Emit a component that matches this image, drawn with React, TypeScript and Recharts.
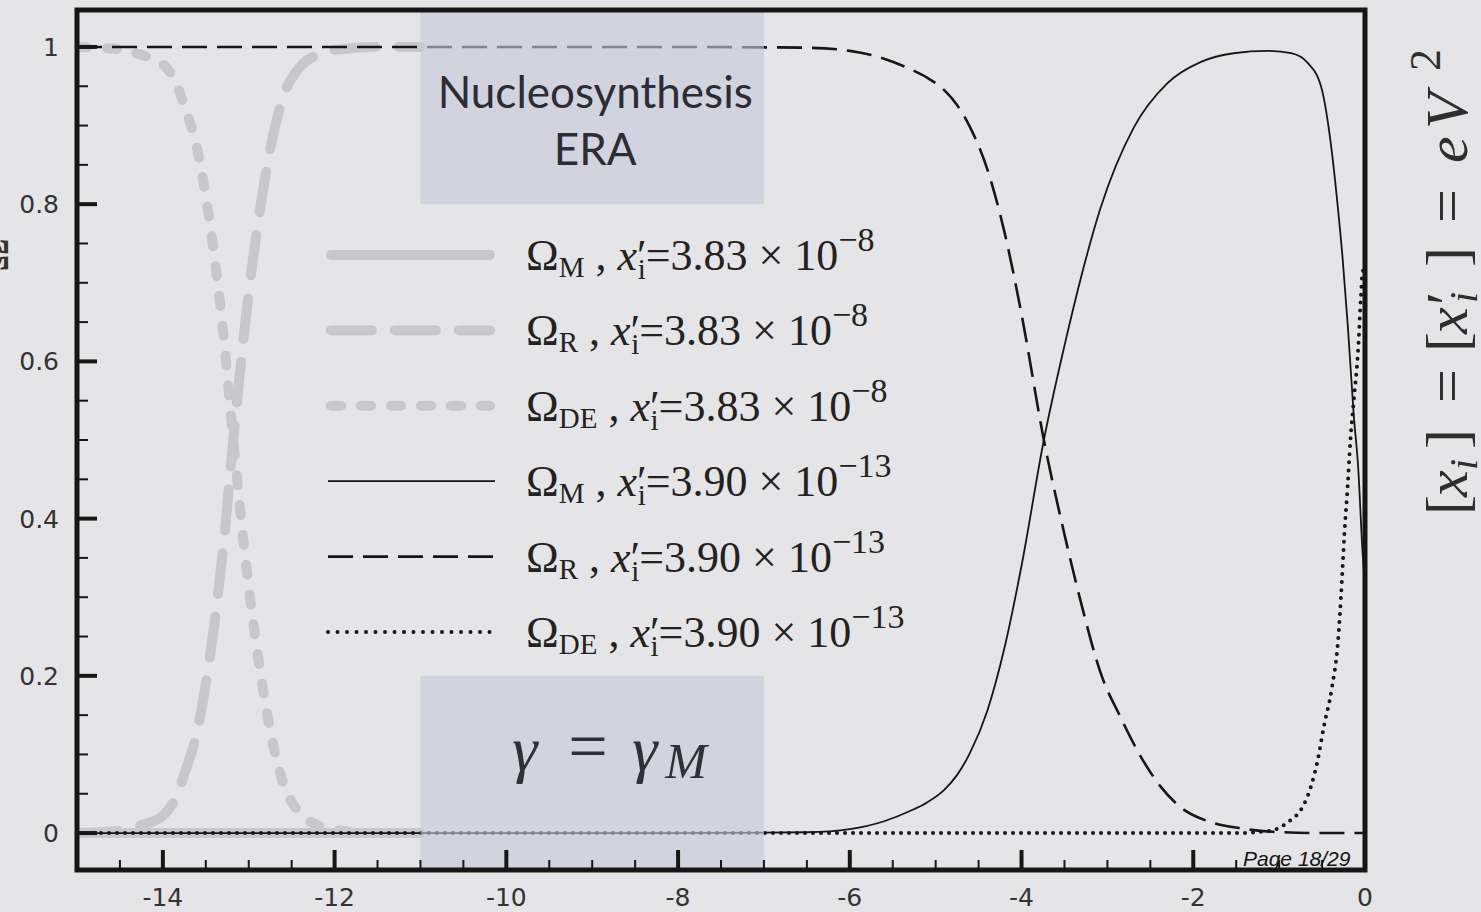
import { LineChart, Line, XAxis, YAxis, ReferenceArea, Legend } from "recharts";

// x is log10 of the scale factor, y is the density parameter
const xDomain = [-15, 0];
const yDomain = [-0.047, 1.047];

// x'_i = 3.83e-8 (grey, thick)
const earlyX = [-15, -14.75, -14.5, -14.25, -14, -13.85, -13.75, -13.6, -13.5, -13.42, -13.3, -13.18, -13.05, -12.95, -12.83, -12.72, -12.6, -12.4, -12.2, -12, -11.5, -11];
const earlyOmegaM = [0, 0, 0, 0, 0, 0, 0, 0, 0, 0, 0, 0, 0, 0, 0, 0, 0, 0, 0, 0, 0, 0];
const earlyOmegaR = [0, 0.001, 0.003, 0.01, 0.022, 0.045, 0.075, 0.13, 0.19, 0.25, 0.36, 0.5, 0.64, 0.73, 0.82, 0.886, 0.936, 0.975, 0.99, 0.996, 1, 1];
const earlyOmegaDE = [1, 0.999, 0.997, 0.99, 0.978, 0.955, 0.925, 0.87, 0.81, 0.75, 0.64, 0.5, 0.36, 0.27, 0.18, 0.114, 0.064, 0.025, 0.01, 0.004, 0, 0];

// x'_i = 3.90e-13 (black)
const lateRX = [-15, -8, -7, -6.5, -6, -5.6, -5.3, -5.1, -4.9, -4.75, -4.6, -4.4, -4.2, -4, -3.74, -3.5, -3.3, -3.08, -2.85, -2.61, -2.38, -2.15, -1.8, -1.45, -0.95, -0.5, 0];
const lateOmegaR = [1, 1, 0.9995, 0.999, 0.995, 0.985, 0.972, 0.961, 0.945, 0.926, 0.898, 0.845, 0.765, 0.66, 0.5, 0.38, 0.29, 0.204, 0.148, 0.097, 0.059, 0.033, 0.014, 0.006, 0.001, 0, 0];
const lateMX = [-15, -8, -7, -6.5, -6, -5.6, -5.3, -5.1, -4.9, -4.75, -4.6, -4.4, -4.2, -4, -3.74, -3.5, -3.3, -3.08, -2.69, -2.3, -1.91, -1.53, -1.13, -0.86, -0.67, -0.51, -0.39, -0.32, -0.26, -0.2, -0.13, -0.08, -0.03, 0];
const lateOmegaM = [0, 0, 0.0005, 0.001, 0.005, 0.015, 0.028, 0.039, 0.055, 0.074, 0.102, 0.155, 0.235, 0.34, 0.5, 0.62, 0.71, 0.795, 0.898, 0.954, 0.981, 0.992, 0.995, 0.992, 0.98, 0.949, 0.87, 0.8, 0.73, 0.645, 0.53, 0.466, 0.36, 0.31];
const lateDEX = [-15, -1.5, -1.1, -0.86, -0.75, -0.63, -0.55, -0.48, -0.39, -0.31, -0.28, -0.24, -0.2, -0.17, -0.13, -0.08, -0.05, -0.03, 0];
const lateOmegaDE = [0, 0, 0.003, 0.017, 0.029, 0.059, 0.093, 0.135, 0.182, 0.25, 0.3, 0.38, 0.445, 0.5, 0.551, 0.615, 0.678, 0.712, 0.72];

const xTicks = [-14.5, -14, -13.5, -13, -12.5, -12, -11.5, -11, -10.5, -10, -9.5, -9, -8.5, -8, -7.5, -7, -6.5, -6, -5.5, -5, -4.5, -4, -3.5, -3, -2.5, -2, -1.5, -1, -0.5, 0];
const xMajorTicks = [-14, -12, -10, -8, -6, -4, -2, 0];
const xTickLabels = ["-14", "-12", "-10", "-8", "-6", "-4", "-2", "0"];
const yTicks = [0, 0.05, 0.1, 0.15, 0.2, 0.25, 0.3, 0.35, 0.4, 0.45, 0.5, 0.55, 0.6, 0.65, 0.7, 0.75, 0.8, 0.85, 0.9, 0.95, 1];
const yMajorTicks = [0, 0.2, 0.4, 0.6, 0.8, 1];
const yTickLabels = ["0", "0.2", "0.4", "0.6", "0.8", "1"];

const legendSubs = ["M", "R", "DE", "M", "R", "DE"];
const legendXi = ["3.83", "3.83", "3.83", "3.90", "3.90", "3.90"];
const legendExp = ["\u22128", "\u22128", "\u22128", "\u221213", "\u221213", "\u221213"];

const eraLines = ["Nucleosynthesis", "ERA"];
const pageLabel = "Page 18/29";

const BG = "#e5e5e7";
const GREY = "#c8c8ca";
const INK = "#161616";

const toPoints = (xs: number[], ys: number[]) => xs.map((x, i) => ({ x, y: ys[i] }));

const earlyM = toPoints(earlyX, earlyOmegaM);
const earlyR = toPoints(earlyX, earlyOmegaR);
const earlyDE = toPoints(earlyX, earlyOmegaDE);
const lateR = toPoints(lateRX, lateOmegaR);
const lateM = toPoints(lateMX, lateOmegaM);
const lateDE = toPoints(lateDEX, lateOmegaDE);

// line styles, shared by the plot and the legend samples
const styles = [
  { stroke: GREY, width: 10, dash: undefined, cap: "round" },
  { stroke: GREY, width: 10, dash: "41 23", cap: "round" },
  { stroke: GREY, width: 10, dash: "10 20", cap: "round" },
  { stroke: INK, width: 1.8, dash: undefined, cap: "butt" },
  { stroke: INK, width: 2.6, dash: "25 10", cap: "butt" },
  { stroke: INK, width: 4, dash: "0 8", cap: "round" },
];

const renderXTick = ({ x, y, payload }: any) => {
  const idx = xMajorTicks.indexOf(payload.value);
  const major = idx >= 0;
  return (
    <g>
      <line x1={x} x2={x} y1={y - 2} y2={y - (major ? 20 : 10)} stroke={INK} strokeWidth={major ? 4 : 2} />
      {major && (
        <text x={x} y={y + 36} textAnchor="middle" fontFamily="DejaVu Sans" fontSize={25} fill="#333">
          {xTickLabels[idx]}
        </text>
      )}
    </g>
  );
};

const renderYTick = ({ x, y, payload }: any) => {
  const idx = yMajorTicks.indexOf(payload.value);
  const major = idx >= 0;
  return (
    <g>
      <line x1={x + 2} x2={x + (major ? 20 : 11)} y1={y} y2={y} stroke={INK} strokeWidth={major ? 4 : 2} />
      {major && (
        <text x={x - 18} y={y + 9} textAnchor="end" fontFamily="DejaVu Sans" fontSize={25} fill="#333">
          {yTickLabels[idx]}
        </text>
      )}
    </g>
  );
};

const EraLabel = ({ viewBox }: any) => {
  const cx = viewBox.x + viewBox.width / 2 + 3;
  return (
    <g fontFamily="Lato" fontSize={44} fill="#2b2c36" textAnchor="middle">
      <text x={cx} y={viewBox.y + 98}>{eraLines[0]}</text>
      <text x={cx} y={viewBox.y + 155}>{eraLines[1]}</text>
    </g>
  );
};

const GammaLabel = ({ viewBox }: any) => {
  const x0 = viewBox.x + viewBox.width / 2 - 80;
  const y0 = viewBox.y + 94;
  return (
    <text x={x0} y={y0} fontFamily="Liberation Serif" fontStyle="italic" fontSize={64} fill="#30303a">
      {"\u03b3"}
      <tspan x={x0 + 56} fontStyle="normal" fontSize={70}>=</tspan>
      <tspan x={x0 + 120}>{"\u03b3"}</tspan>
      <tspan x={x0 + 153} fontSize={50} dy={8}>M</tspan>
    </text>
  );
};

const LegendBox = () => (
  <svg width={660} height={450}>
    {styles.map((s, i) => {
      const ly = 40 + i * 75.4;
      return (
        <g key={i}>
          <line
            x1={s.width > 5 ? 13 : 10}
            x2={s.width > 5 ? 172 : 177}
            y1={ly}
            y2={ly}
            stroke={s.stroke}
            strokeWidth={s.width}
            strokeDasharray={i === 5 ? "0 9.5" : s.dash}
            strokeLinecap={s.cap as any}
          />
          <text x={208} y={ly + 15} fontFamily="Liberation Serif" fontSize={44} fill="#222">
            {"\u03a9"}
            <tspan fontSize={29} dy={7}>{legendSubs[i]}</tspan>
            <tspan dy={-7}>{" , "}</tspan>
            <tspan fontStyle="italic">x</tspan>
            <tspan>{"\u2032"}</tspan>
            <tspan fontSize={29} dx={-9} dy={9}>i</tspan>
            <tspan dy={-9}>{"=" + legendXi[i] + " \u00d7 10"}</tspan>
            <tspan fontSize={34} dy={-19}>{legendExp[i]}</tspan>
          </text>
        </g>
      );
    })}
  </svg>
);

const lines = [earlyM, earlyR, earlyDE, lateM, lateR, lateDE];

export default function App() {
  return (
    <div style={{ position: "absolute", left: 0, top: 0, width: 1481, height: 912, background: BG, overflow: "hidden" }}>
      <LineChart width={1481} height={912} margin={{ top: 10, right: 116, bottom: 0, left: 0 }}>
        <XAxis
          type="number"
          dataKey="x"
          domain={xDomain}
          ticks={xTicks}
          interval={0}
          tickSize={0}
          tickMargin={0}
          axisLine={false}
          tickLine={false}
          tick={renderXTick}
          height={42}
          allowDataOverflow
        />
        <YAxis
          type="number"
          dataKey="y"
          domain={yDomain}
          ticks={yTicks}
          interval={0}
          tickSize={0}
          tickMargin={0}
          axisLine={false}
          tickLine={false}
          tick={renderYTick}
          width={77}
          allowDataOverflow
        />
        {lines.map((data, i) => (
          <Line
            key={i}
            data={data}
            dataKey="y"
            type="monotone"
            stroke={styles[i].stroke}
            strokeWidth={styles[i].width}
            strokeDasharray={styles[i].dash}
            strokeLinecap={styles[i].cap as any}
            dot={false}
            activeDot={false}
            isAnimationActive={false}
            legendType="none"
          />
        ))}
        <ReferenceArea x1={-11} x2={-7} y1={0.8} y2={yDomain[1]} fill="#c5c8d8" fillOpacity={0.62} stroke="none" label={EraLabel} zIndex={700} />
        <ReferenceArea x1={-11} x2={-7} y1={yDomain[0]} y2={0.2} fill="#c5c8d8" fillOpacity={0.62} stroke="none" label={GammaLabel} zIndex={700} />
        <ReferenceArea x1={xDomain[0]} x2={xDomain[1]} y1={yDomain[0]} y2={yDomain[1]} fill="none" stroke={INK} strokeWidth={5} zIndex={800} />
        <Legend
          layout="vertical"
          align="center"
          verticalAlign="middle"
          content={LegendBox}
          wrapperStyle={{ left: 318, top: 215, width: 660, height: 450 }}
        />
      </LineChart>
      <svg width={1481} height={912} style={{ position: "absolute", left: 0, top: 0, pointerEvents: "none" }}>
        <text transform="translate(1467, 515) rotate(-90)" fontFamily="Liberation Serif" fontSize={60} fill="#2e2e2e">
          <tspan x={0}>[</tspan>
          <tspan x={18} fontStyle="italic">x</tspan>
          <tspan x={45} fontSize={40} dy={10} fontStyle="italic">i</tspan>
          <tspan x={66} dy={-10}>]</tspan>
          <tspan x={112}>=</tspan>
          <tspan x={163}>[</tspan>
          <tspan x={181} fontStyle="italic">x</tspan>
          <tspan x={210}>{"\u2032"}</tspan>
          <tspan x={212} fontSize={40} dy={10} fontStyle="italic">i</tspan>
          <tspan x={248} dy={-10}>]</tspan>
          <tspan x={292}>=</tspan>
          <tspan x={352} fontStyle="italic">e</tspan>
          <tspan x={386} fontStyle="italic">V</tspan>
          <tspan x={444} fontSize={44} dy={-27}>2</tspan>
        </text>
        <text transform="translate(8, 255) rotate(-90)" textAnchor="middle" fontFamily="Liberation Serif" fontSize={46} fill="#333">
          {"\u03a9"}
        </text>
        <text x={1243} y={866} fontFamily="Liberation Sans" fontStyle="italic" fontSize={21} fill="#111">
          {pageLabel}
        </text>
      </svg>
    </div>
  );
}
